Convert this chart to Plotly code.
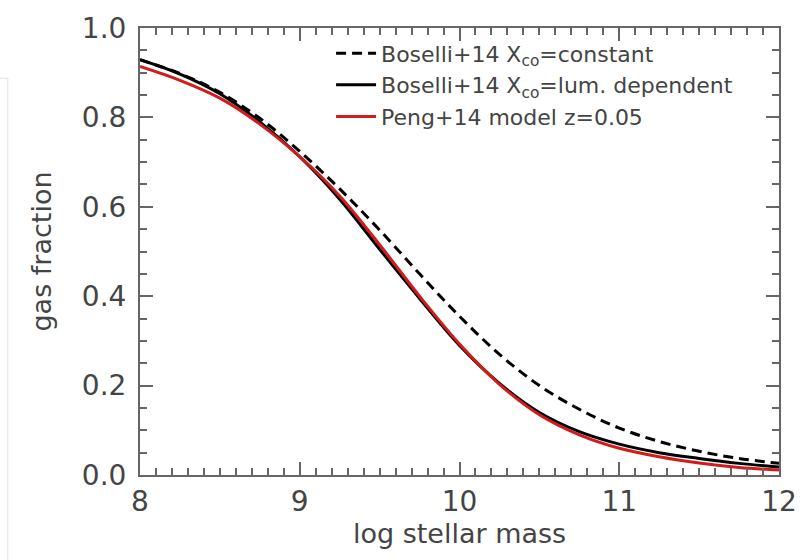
import plotly.graph_objects as go

# Data
log_mass = [8.0, 8.25, 8.5, 8.75, 9.0, 9.25, 9.5, 9.75, 10.0, 10.25, 10.5, 10.75, 11.0, 11.25, 11.5, 11.75, 12.0]

boselli_const = [0.929, 0.898, 0.856, 0.798, 0.724, 0.640, 0.548, 0.450, 0.355, 0.270, 0.200, 0.147, 0.105, 0.075, 0.053, 0.037, 0.026]
boselli_lum = [0.929, 0.897, 0.853, 0.790, 0.712, 0.617, 0.505, 0.395, 0.290, 0.205, 0.140, 0.097, 0.069, 0.050, 0.037, 0.026, 0.018]
peng_model = [0.914, 0.883, 0.843, 0.785, 0.712, 0.624, 0.515, 0.400, 0.293, 0.203, 0.135, 0.090, 0.060, 0.041, 0.027, 0.017, 0.011]

series_names = [
    "Boselli+14 X<sub>co</sub>=constant",
    "Boselli+14 X<sub>co</sub>=lum. dependent",
    "Peng+14 model z=0.05",
]

x_ticks = [8, 9, 10, 11, 12]
y_ticks = [0.0, 0.2, 0.4, 0.6, 0.8, 1.0]
y_tick_labels = ["0.0", "0.2", "0.4", "0.6", "0.8", "1.0"]

FONT = "DejaVu Sans"
TEXT = "#444444"
AXIS = "#666666"

fig = go.Figure()
fig.add_trace(go.Scatter(x=log_mass, y=boselli_const, mode="lines", name=series_names[0],
                         line=dict(color="black", width=3, dash="10px,6px", shape="spline")))
fig.add_trace(go.Scatter(x=log_mass, y=boselli_lum, mode="lines", name=series_names[1],
                         line=dict(color="black", width=3, shape="spline")))
fig.add_trace(go.Scatter(x=log_mass, y=peng_model, mode="lines", name=series_names[2],
                         line=dict(color="#d01c1c", width=3, shape="spline")))

axis_common = dict(
    showline=True, linecolor=AXIS, linewidth=2, mirror="allticks",
    ticks="inside", ticklen=13, tickwidth=2, tickcolor=AXIS,
    showgrid=False, zeroline=False,
    tickfont=dict(family=FONT, size=28, color=TEXT),
)

fig.update_xaxes(
    range=[8, 12], tickvals=x_ticks, ticktext=[str(v) for v in x_ticks],
    minor=dict(dtick=0.1, ticks="inside", ticklen=7, tickwidth=2, tickcolor=AXIS, showgrid=False),
    title=dict(text="log stellar mass", font=dict(family=FONT, size=27, color=TEXT), standoff=0),
    ticklabelstandoff=0,
    **axis_common,
)
fig.update_yaxes(
    range=[0, 1], tickvals=y_ticks, ticktext=y_tick_labels,
    minor=dict(dtick=0.05, ticks="inside", ticklen=7, tickwidth=2, tickcolor=AXIS, showgrid=False),
    title=dict(text="gas fraction", font=dict(family=FONT, size=27, color=TEXT), standoff=22),
    ticklabelstandoff=6,
    **axis_common,
)

fig.update_layout(
    width=809, height=560,
    margin=dict(l=140, r=21, t=21, b=85),
    paper_bgcolor="white", plot_bgcolor="white",
    showlegend=True,
    legend=dict(x=0.299, y=0.99, xanchor="left", yanchor="top",
                bgcolor="rgba(0,0,0,0)", borderwidth=0,
                font=dict(family=FONT, size=22, color=TEXT),
                tracegroupgap=0, itemwidth=40),
    shapes=[
        dict(type="line", xref="paper", yref="paper", x0=-0.2068, x1=-0.2068, y0=0.8877, y1=-0.19,
             line=dict(color="#e2e2e2", width=1)),
        dict(type="line", xref="paper", yref="paper", x0=-0.22, x1=-0.2068, y0=0.8877, y1=0.8877,
             line=dict(color="#e2e2e2", width=1)),
    ],
)

fig.write_html("out.html")
